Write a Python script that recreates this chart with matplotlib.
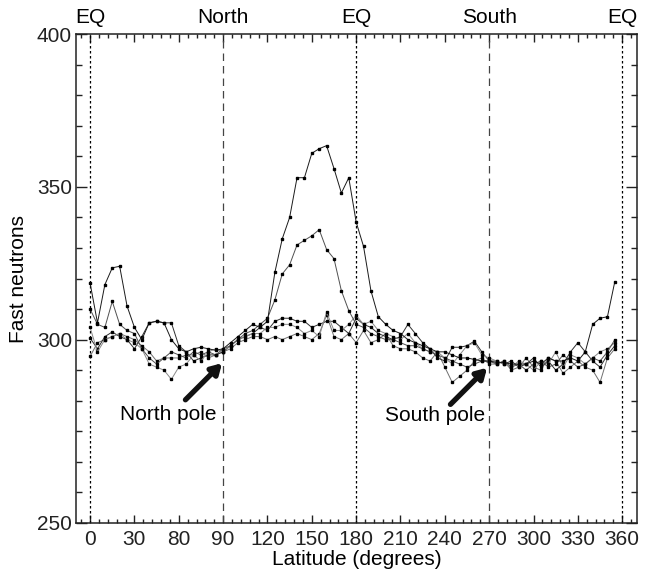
import numpy as np
import matplotlib
matplotlib.use("Agg")
import matplotlib.pyplot as plt
from matplotlib.ticker import FixedLocator, MultipleLocator
import matplotlib.transforms as mtransforms

plt.rcParams["font.family"] = ["Liberation Sans", "DejaVu Sans"]

# latitude along the orbit track, every 5 degrees
lat = np.arange(0, 360, 5)

# five orbits of fast-neutron counts
orbit_a = [318.5, 305.5, 318, 323.5, 324, 311, 304, 300, 305.5, 306, 305.5, 300,
           297, 296, 297, 297.5, 297, 296.5, 297, 299, 301, 303, 305, 304,
           306, 322, 333, 340, 353, 353, 361, 362.5, 363.5, 356, 348, 353,
           338.5, 330.5, 316, 307.5, 305, 303, 302, 300, 299, 298, 297, 296,
           296, 295, 294, 294, 293.5, 293, 293, 292.5, 292.5, 292, 292, 292,
           293, 292, 294, 293, 293, 294, 293, 296, 305, 307, 307.5, 319]
orbit_b = [310, 305, 304, 312.5, 305, 303, 302, 297, 294, 292, 294, 296,
           295, 294, 296, 295, 296, 295, 297, 298, 300, 302, 303, 305,
           307, 313, 321.5, 324.5, 331, 332.5, 334, 336, 329.5, 326.5, 316, 309.5,
           305, 304, 302, 301, 300, 300, 299, 298, 298, 297, 296, 295,
           294, 293, 292, 291, 292, 293, 293, 292, 293, 291, 292, 290,
           292, 293, 291, 292, 295, 293, 291, 292, 294, 293, 296, 300]
orbit_c = [304, 296, 300, 301, 302, 300, 299, 297, 292, 291, 290, 287,
           291, 292, 295, 293, 296, 297, 296, 298, 300, 301, 302, 302,
           304, 304, 305, 305, 304, 302, 303, 301, 309, 303, 303, 305,
           308, 305, 306, 303, 302, 301, 300, 302, 299, 297, 296, 296,
           294, 292, 295, 298, 299, 295, 294, 293, 292, 291, 293, 292,
           290, 293, 292, 296, 291, 295, 294, 292, 294, 296, 297, 299]
orbit_d = [300.5, 297, 301, 302.5, 301, 300, 297, 301, 305.5, 306, 305.5, 305.5,
           298, 296, 293, 294, 295, 295, 296, 298, 300, 301, 302, 304,
           303, 306, 307, 307, 306, 306, 304, 305, 306, 306, 304, 302,
           307, 305, 304, 302, 301, 300, 301, 305, 302, 299, 297, 294,
           293, 297.5, 297.5, 298, 299.5, 296, 293, 293, 292, 293, 291, 292,
           294, 291, 293, 290, 292, 296, 299, 296, 293, 291, 295, 298]
orbit_e = [294.5, 299, 300, 301, 302, 301, 300, 298, 296, 293, 294, 294,
           294, 295, 295, 296, 294, 295, 296, 297, 299, 300, 301, 301,
           300, 301, 300, 301, 302, 301, 300, 302, 308, 301, 300, 302,
           299, 303, 299, 300, 302, 298, 297, 297, 296, 294, 293, 296,
           291, 286, 288, 290, 293, 294, 292, 292, 293, 290, 291, 294,
           291, 290, 294, 293, 289, 291, 293, 291, 290, 286, 294, 297]

orbits = [orbit_e, orbit_d, orbit_c, orbit_b, orbit_a]
line_colors = ["#707070", "#303030", "#8a8a8a", "#505050", "#1a1a1a"]

x_ticks = [0, 30, 60, 90, 120, 150, 180, 210, 240, 270, 300, 330, 360]
x_ticklabels = ["0", "30", "80", "90", "120", "150", "180", "210", "240",
                "270", "300", "330", "360"]
y_ticks = [240, 300, 350, 400]
y_ticklabels = ["250", "300", "350", "400"]
top_pos = [0, 90, 180, 270, 360]
top_labels = ["EQ", "North", "EQ", "South", "EQ"]

FS = 15

fig = plt.figure(figsize=(6.5, 5.69), dpi=100)
ax = fig.add_axes([0.117, 0.081, 0.863, 0.859])

for vals, col in zip(orbits, line_colors):
    ax.plot(lat, vals, "-", color=col, lw=0.7, marker="s", ms=2.0,
            mfc="black", mec="black", zorder=3)

# equator (dotted) and pole (dashed) markers
for xv in [0, 180, 360]:
    ax.axvline(xv, color="black", lw=0.9, ls=(0, (2, 2)), zorder=2)
for xv in [90, 270]:
    ax.axvline(xv, color="#444444", lw=0.9, ls=(0, (6, 4)), zorder=2)

ax.set_xlim(-9.5, 370)
ax.set_ylim(240, 400)
ax.xaxis.set_major_locator(FixedLocator(x_ticks))
ax.set_xticklabels(x_ticklabels)
ax.xaxis.set_minor_locator(MultipleLocator(6))
ax.yaxis.set_major_locator(FixedLocator(y_ticks))
ax.set_yticklabels(y_ticklabels)
ax.yaxis.set_minor_locator(FixedLocator(np.arange(250, 400, 10)))

ax.tick_params(which="both", direction="in", top=True, right=True,
               labelsize=FS, width=1.0, colors="#222222")
ax.tick_params(axis="x", which="major", length=6, pad=5)
ax.tick_params(axis="x", which="minor", length=3)
ax.tick_params(axis="y", which="major", length=8, pad=3)
ax.tick_params(axis="y", which="minor", length=4.3)
for sp in ax.spines.values():
    sp.set_linewidth(1.1)
    sp.set_color("#222222")

ax.set_xlabel("Latitude (degrees)", fontsize=FS, labelpad=1)
ax.set_ylabel("Fast neutrons", fontsize=FS, labelpad=6)

trans = mtransforms.blended_transform_factory(ax.transData, ax.transAxes)
for xp, lab in zip(top_pos, top_labels):
    ax.text(xp, 1.015, lab, transform=trans, ha="center", va="bottom",
            fontsize=FS)

ax.annotate("", xy=(89.3, 292.3), xytext=(64.5, 280.3),
            arrowprops=dict(arrowstyle="-|>,head_length=0.6,head_width=0.35",
                            lw=3.8, color="#111111", shrinkA=0, shrinkB=0))
ax.text(52.8, 275.6, "North pole", ha="center", va="center", fontsize=FS)
ax.annotate("", xy=(268.6, 290.8), xytext=(243.8, 278.8),
            arrowprops=dict(arrowstyle="-|>,head_length=0.6,head_width=0.35",
                            lw=3.8, color="#111111", shrinkA=0, shrinkB=0))
ax.text(233.5, 275.2, "South pole", ha="center", va="center", fontsize=FS)

fig.savefig("out.png", dpi=100)
